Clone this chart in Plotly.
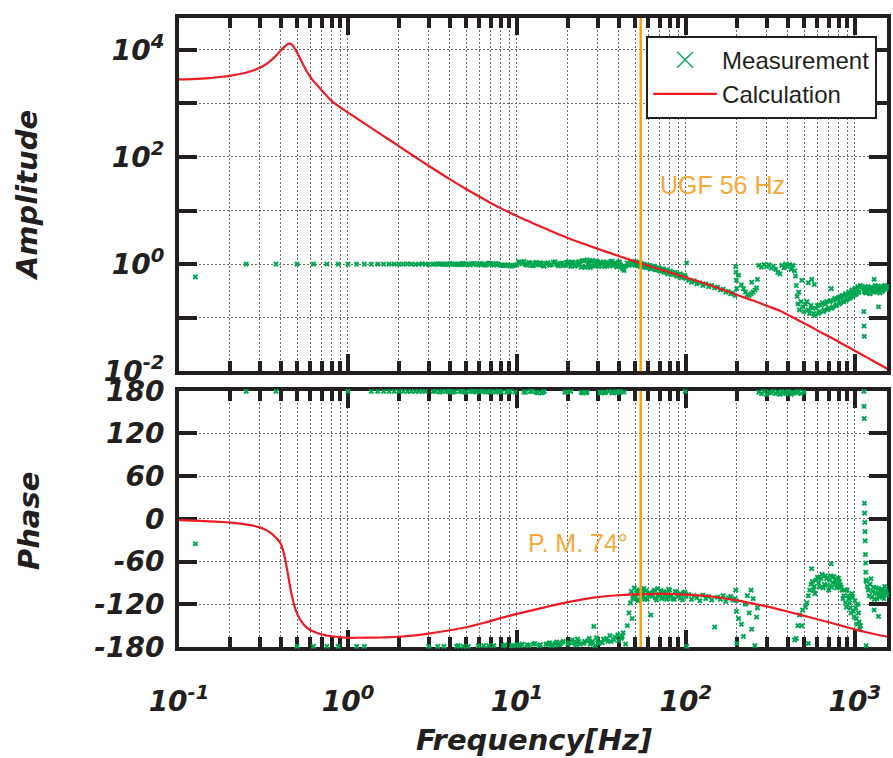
import plotly.graph_objects as go

# ---------------- data ----------------
# Calculation (model) curve
calc_freq = [0.1, 0.12, 0.15, 0.18, 0.2, 0.23, 0.26, 0.28, 0.3, 0.32, 0.34, 0.36, 0.38, 0.4,
             0.415, 0.43, 0.44, 0.446, 0.452, 0.46, 0.47, 0.48, 0.49, 0.5, 0.52, 0.55, 0.58,
             0.62, 0.67, 0.72, 0.78, 0.85, 0.92, 1.0,
             1.2, 1.4, 1.7, 2.0, 2.5, 3.0, 4.0, 5.0, 6.5, 8.0, 10, 13, 16, 20, 25, 30, 40, 56,
             75, 100, 130, 160, 200, 250, 300, 360, 420, 500, 600, 720, 850, 1000, 1200, 1400, 1600]
calc_amp = [2799, 2851, 2965, 3141, 3273, 3532, 3890, 4217, 4624, 5152, 5888, 6839, 8128, 9661,
            10965, 12162, 12794, 13032, 13092, 12882, 12162, 11092, 9886, 8810, 6998, 4898, 3631,
            2692, 2042, 1585, 1202, 955, 804, 675,
            461, 335, 224, 160, 100, 68.7, 38.6, 25.3, 15.8, 11.1, 7.9, 5.46, 4.12, 3.09, 2.37,
            1.94, 1.42, 1.0, 0.75, 0.566, 0.435, 0.346, 0.268, 0.209, 0.168, 0.135, 0.105, 0.079,
            0.058, 0.0427, 0.032, 0.0242, 0.0176, 0.0134, 0.0106]
calc_phase = [-1.8, -2.4, -3.4, -4.4, -5.2, -6.6, -8.4, -10, -12, -14.5, -18, -22.5, -28, -35,
              -46, -63, -76, -84, -92, -102, -112, -121, -128, -133, -141, -149, -154,
              -158, -161, -163, -164.6, -165.6, -166.4, -167,
              -167, -166.9, -166.4, -165.6, -163.6, -161.2, -156.5, -152.2, -145.5, -139.5, -133.5,
              -127.1, -122.0, -117.0, -112.8, -110.0, -107.3, -105.8, -105.4, -106.3, -108.3, -110.8,
              -114.5, -119, -123, -127.5, -131.5, -136.2, -141, -146, -150.7, -155.3, -160, -163.5, -166]

# Measurement points (frequency, amplitude, phase)
meas_freq = [
    0.125, 0.25, 0.375, 0.5, 0.625, 0.75, 0.875, 1.0, 1.125, 1.25, 1.375, 1.5, 1.625, 1.75,
    1.875, 2.0, 2.125, 2.25, 2.375, 2.5, 2.625, 2.75, 2.875, 3.0,
    3.2, 3.4, 3.6, 3.8, 4.0, 4.2, 4.4, 4.6, 4.8, 5.0, 5.3, 5.6, 5.9, 6.2, 6.5, 6.8, 7.1, 7.5,
    7.9, 8.3, 8.7, 9.1, 9.5, 10.0, 10.5, 11.0, 11.5, 12.0, 12.5, 13.0, 13.5, 14.0, 14.5, 15.2,
    16.0, 16.8, 17.6, 18.4, 19.2, 20.0, 20.8, 21.6, 22.4, 23.2, 24.0, 24.8, 25.6, 26.4, 27.2,
    28.0, 29.0, 30.0, 31.0, 32.0, 33.0, 34.0, 35.0, 36.0, 37.0, 38.0, 39.0, 40.0, 41.0, 42.0, 43.0,
    3.3, 3.5, 3.7, 3.9, 4.1, 4.3, 4.5, 4.7, 4.9, 5.15,
    5.45, 5.75, 6.05, 6.35, 6.65, 6.95, 7.3, 7.7, 8.1, 8.5,
    8.9, 9.3, 9.75, 10.25, 10.75, 11.25, 11.75, 12.25, 12.75, 13.25,
    13.75, 14.25, 14.85, 15.6, 16.4, 17.2, 18.0, 18.8, 19.6, 20.4,
    21.2, 22.0, 22.8, 23.6, 24.4, 25.2, 26.0, 26.8, 27.6, 28.5,
    29.5, 30.5, 31.5, 32.5, 33.5, 34.5, 35.5, 36.5, 37.5, 38.5,
    39.5, 40.5, 41.5, 42.5,
    44, 45, 46, 47, 48, 49, 50, 51, 52, 53, 54, 55, 56, 57, 58, 60, 62, 64, 66, 68,
    70, 72, 74, 76, 78, 80, 82, 85, 88, 91, 94, 97, 100,
    47.5, 48.5, 49.5, 50.5, 51.5, 52.5, 53.5, 54.5, 55.5, 56.5, 59, 61, 63, 65, 67, 69, 71, 73,
    75, 77, 79, 81, 83.5, 86.5, 89.5, 92.5, 95.5, 98.5,
    99, 101, 104, 108, 112, 116, 121, 126, 131, 136, 142, 148, 154, 160, 166, 172, 178, 184, 190, 195,
    197, 198, 199, 200, 205, 213, 219, 225, 231, 237, 243, 245, 250, 256, 262, 265,
    270, 280, 290, 300, 310, 320, 330, 340, 350, 360, 370, 380, 390, 400, 410, 420, 430, 440,
    445, 450, 455, 460, 465, 470, 480, 490, 500, 510,
    520, 540, 560, 580, 600, 620, 640, 660, 680, 700, 720, 740, 760, 780, 800, 820, 840, 860,
    880, 900, 920, 940, 960, 980, 1000, 1020, 1040, 1060, 1080,
    530, 550, 570, 590, 610, 630, 650, 670, 690, 710, 730, 750, 770, 790, 810, 830, 850, 870,
    890, 910, 930, 950, 970, 990, 1010, 1030, 1050, 1070,
    485, 530, 555, 575, 725, 1300, 1380,
    1130, 1133, 1136, 1139, 1142, 1145, 1148, 1151, 1154, 1157, 1160, 1163, 1166,
    1170, 1200, 1230, 1260, 1290, 1320, 1350, 1380, 1410, 1440, 1470, 1500, 1530, 1560, 1590,
    1185, 1215, 1245, 1275, 1305, 1335, 1365, 1395, 1425, 1455, 1485, 1515, 1545, 1575,
]
meas_amp = [
    0.58, 1.0, 1.0, 1.0, 1.0, 1.0, 1.0, 1.0, 1.0, 1.0, 1.0, 1.0, 1.0, 1.0,
    1.0, 1.0, 1.0, 1.01, 1.0, 0.99, 1.0, 1.01, 1.0, 0.99,
    1.0, 1.01, 0.99, 1.0, 1.02, 0.99, 1.0, 0.98, 1.02, 1.0, 0.97, 1.03, 0.98, 1.01, 0.96, 1.04, 0.99, 1.02,
    0.97, 0.94, 0.96, 0.93, 0.95, 0.97, 1.08, 1.12, 0.96, 1.05, 0.94, 1.08, 0.97, 1.03, 0.92, 1.06,
    0.98, 1.1, 0.93, 1.04, 0.97, 1.09, 0.91, 1.05, 0.96, 1.12, 0.88, 1.15, 0.9, 1.08, 0.86,
    1.18, 0.92, 1.1, 0.95, 1.05, 0.9, 1.08, 0.98, 1.12, 0.94, 1.06, 0.89, 1.1, 0.97, 0.85, 0.76,
    0.99, 1.01, 1.0, 0.98, 1.01, 1.0, 0.99, 1.02, 0.98, 1.01,
    1.02, 0.98, 1.03, 0.97, 1.0, 1.04, 0.96, 1.01, 0.95, 0.97,
    0.95, 0.92, 0.96, 1.1, 1.02, 0.98, 1.07, 0.95, 1.04, 0.99,
    1.06, 0.95, 1.02, 0.96, 1.08, 0.99, 1.03, 0.94, 1.07, 1.0,
    1.1, 0.93, 1.06, 0.98, 1.16, 0.87, 1.2, 0.92, 1.12, 0.95,
    1.14, 0.91, 1.03, 1.1, 0.95, 1.07, 0.92, 1.14, 0.98, 1.04,
    0.93, 1.08, 0.9, 0.82,
    0.92, 1.05, 0.95, 1.1, 0.98, 1.06, 0.96, 1.08, 0.94, 1.03, 0.9, 1.0, 0.88, 0.98, 0.86, 0.94, 0.82, 0.9, 0.78, 0.84,
    0.74, 0.8, 0.7, 0.76, 0.66, 0.72, 0.64, 0.68, 0.6, 0.64, 0.56, 0.6, 0.54,
    1.02, 1.12, 0.98, 1.1, 0.95, 1.06, 0.93, 1.02, 0.9, 0.99, 0.87, 0.95, 0.84, 0.91, 0.8, 0.86, 0.76, 0.82,
    0.72, 0.78, 0.69, 0.74, 0.65, 0.7, 0.61, 0.66, 0.58, 0.62,
    0.58, 1.05, 0.5, 0.46, 0.49, 0.43, 0.45, 0.4, 0.43, 0.38, 0.4, 0.36, 0.37, 0.33, 0.34, 0.3, 0.31, 0.28, 0.29, 0.26,
    0.9, 0.7, 0.5, 0.35, 0.62, 0.41, 0.35, 0.3, 0.27, 0.26, 0.28, 0.46, 0.3, 0.33, 0.36, 0.52,
    0.95, 0.88, 0.98, 0.9, 0.97, 0.84, 0.92, 0.8, 0.7, 0.66, 0.95, 0.85, 1.0, 0.9, 0.98, 0.8, 0.95, 0.75,
    0.6, 0.4, 0.25, 0.18, 0.3, 0.14, 0.2, 0.16, 0.13, 0.18,
    0.2, 0.12, 0.15, 0.11, 0.17, 0.13, 0.19, 0.14, 0.2, 0.15, 0.21, 0.16, 0.23, 0.17, 0.24, 0.19, 0.26, 0.2,
    0.28, 0.22, 0.3, 0.24, 0.33, 0.26, 0.35, 0.28, 0.38, 0.3, 0.4,
    0.14, 0.17, 0.12, 0.15, 0.12, 0.17, 0.13, 0.18, 0.14, 0.2, 0.15, 0.21, 0.17, 0.22, 0.18, 0.24, 0.2, 0.26,
    0.21, 0.27, 0.23, 0.3, 0.25, 0.32, 0.27, 0.34, 0.3, 0.37,
    0.5, 0.45, 0.52, 0.42, 0.35, 0.52, 0.16,
    0.13, 0.07, 0.045, 0.32, 0.36, 0.3, 0.34, 0.38, 0.31, 0.35, 0.29, 0.33, 0.36,
    0.3, 0.38, 0.28, 0.35, 0.3, 0.4, 0.32, 0.36, 0.29, 0.38, 0.33, 0.4, 0.34, 0.37, 0.35,
    0.34, 0.29, 0.37, 0.31, 0.36, 0.3, 0.39, 0.33, 0.37, 0.31, 0.39, 0.35, 0.38, 0.33,
]
meas_phase = [
    -35, 179, 179, -179, -179, -179, -179, 179, -179, -179, 179, 179, 179, 179,
    179, 179, 179, 179, 179, 179, 179, 179, 179, -179,
    179, -179, 179, 179, 179, 178, -179, 179, -179, 178, 179, 179, -178, 179, 178, -178, 179, 178,
    179, -178, 178, 179, -178, -177, -178, 178, -177, 179, -176, 178, -178, 177, 179, -176,
    -178, -175, -177, -174, 178, -176, 179, -173, -177, -172, 178, -175, 177, -171, -176,
    -172, -178, -170, 178, -174, 177, -168, 179, -172, 178, -166, 177, -171, 179, -165, 178,
    179, 178, -179, 179, 178, 179, -178, 179, 178, -179,
    179, 178, 179, -178, 179, 178, -178, 179, 178, -177,
    179, -178, 178, -177, -176, 178, -178, 179, -175, 177,
    -177, 178, -176, -174, -177, -173, -176, -172, 178, -174,
    -170, -175, -169, -176, 177, -172, 178, -168, -174, -151,
    -167, -175, 177, -169, 178, -172, -164, 177, -170, 179,
    -163, 178, -168, -160,
    -176, -150, -132, -118, -140, -108, -112, -100, -114, -104, -110, -99, -108, -113, -101, -107, -135, -103, -111, -98,
    -108, -112, -102, -106, -110, -100, -108, -113, -103, -107, -111, -104, -109,
    -102, -112, -97, -109, -104, -115, -100, -106, -111, -98, -113, -104, -109, -100, -114, -106, -101, -110,
    -104, -113, -99, -108, -112, -102, -109, -105, -114, -103,
    179, -179, -106, -113, -108, -111, -115, -107, -112, -109, -114, -152, -110, -113, -108, -116, -111, -109, -114, -112,
    -100, -115, -130, -175, -140, -148, -165, -120, -108, -132, -100, -155, -112, -178, -138, -125,
    178, 176, 179, 175, 178, 177, 179, 176, 178, 175, 179, 177, 176, 179, 178, 175, 177, -170,
    178, -168, 177, -150, 179, -135, 176, -128, 178, -124,
    -118, -100, -88, -105, -82, -96, -78, -92, -84, -100, -80, -90, -86, -97, -83, -93, -100, -108,
    -118, -100, -112, -125, -105, -130, -115, -140, -120, -145, -150,
    -108, -92, -100, -86, -90, -84, -97, -80, -93, -86, -96, -81, -90, -95, -88, -96, -112, -100,
    -124, -108, -118, -132, -110, -138, -125, -148, -132, -155,
    -150, -175, -70, -95, -63, -128, -137,
    179, 158, 141, 22, 8, -5, -18, -31, -50, -62, -75, -86, -178,
    -88, -100, -92, -110, -96, -104, -112, -98, -106, -100, -108, -95, -103, -110, -100,
    -95, -108, -84, -102, -113, -97, -105, -110, -99, -104, -112, -101, -107, -98,
]
assert len(meas_freq) == len(meas_amp) == len(meas_phase)
assert len(calc_freq) == len(calc_amp) == len(calc_phase)

ugf_freq = 54  # position of the UGF marker line

x_tick_vals = [0.1, 1, 10, 100, 1000]
x_tick_text = ["10<sup>-1</sup>", "10<sup>0</sup>", "10<sup>1</sup>", "10<sup>2</sup>", "10<sup>3</sup>"]
x_minor_vals = [m * 10.0 ** e for e in range(-1, 4) for m in range(2, 10)]
amp_tick_vals = [0.01, 0.1, 1, 10, 100, 1000, 10000]
amp_tick_text = ["10<sup>-2</sup>", "", "10<sup>0</sup>", "", "10<sup>2</sup>", "", "10<sup>4</sup>"]
phase_tick_vals = [-180, -120, -60, 0, 60, 120, 180]
phase_tick_text = ["-180", "-120", "-60", "0", "60", "120", "180"]

# ---------------- styling ----------------
INK = "#231F20"
GRID = "#6a6a6a"
GREEN = "#00A651"
RED = "#ED1C24"
ORANGE = "#F4A11D"
ORANGE_TXT = "#F6A93B"
DASH = "2px,2px"
tick_font = dict(family="DejaVu Sans", size=28, color=INK, weight="bold", style="italic")
title_font = dict(family="DejaVu Sans", size=29, color=INK, weight="bold", style="italic")

fig = go.Figure()

# legend-only entries
fig.add_trace(go.Scatter(x=[None], y=[None], mode="markers", name="Measurement",
                         marker=dict(symbol="x-thin", size=16, line=dict(color=GREEN, width=1.3)),
                         xaxis="x", yaxis="y"))
fig.add_trace(go.Scatter(x=[None], y=[None], mode="lines", name="Calculation",
                         line=dict(color=RED, width=2.2), xaxis="x", yaxis="y"))

# measurement
fig.add_trace(go.Scatter(x=meas_freq, y=meas_amp, mode="markers", showlegend=False,
                         marker=dict(symbol="x", size=5, color=GREEN, line=dict(width=0)),
                         cliponaxis=False, xaxis="x", yaxis="y"))
fig.add_trace(go.Scatter(x=meas_freq, y=meas_phase, mode="markers", showlegend=False,
                         marker=dict(symbol="x", size=5, color=GREEN, line=dict(width=0)),
                         cliponaxis=False, xaxis="x2", yaxis="y2"))
# calculation
fig.add_trace(go.Scatter(x=calc_freq, y=calc_amp, mode="lines", showlegend=False,
                         line=dict(color=RED, width=2.2, shape="spline", smoothing=0.8),
                         xaxis="x", yaxis="y"))
fig.add_trace(go.Scatter(x=calc_freq, y=calc_phase, mode="lines", showlegend=False,
                         line=dict(color=RED, width=2.2, shape="spline", smoothing=0.8),
                         xaxis="x2", yaxis="y2"))

# UGF vertical line in both panels
for xr, yr in (("x", "y domain"), ("x2", "y2 domain")):
    fig.add_shape(type="line", xref=xr, yref=yr, x0=ugf_freq, x1=ugf_freq, y0=0, y1=1,
                  line=dict(color=ORANGE, width=2.5))

x_common = dict(type="log", range=[-1, 3.19], showline=True, linewidth=4, linecolor=INK,
                mirror="ticks", ticks="inside", ticklen=17, tickwidth=4, tickcolor=INK,
                tickmode="array", tickvals=x_tick_vals, ticktext=x_tick_text,
                showgrid=True, gridcolor=GRID, gridwidth=1, griddash=DASH, zeroline=False,
                tickfont=tick_font, layer="below traces",
                minor=dict(tickmode="array", tickvals=x_minor_vals, ticks="inside", ticklen=10,
                           tickwidth=4, tickcolor=INK, showgrid=True, gridcolor=GRID,
                           gridwidth=1, griddash=DASH))
y_common = dict(showline=True, linewidth=4, linecolor=INK, mirror="ticks", ticks="inside",
                ticklen=18, tickwidth=4, tickcolor=INK, tickmode="array",
                showgrid=True, gridcolor=GRID, gridwidth=1, griddash=DASH, zeroline=False,
                tickfont=tick_font, ticklabelstandoff=5, layer="below traces")

fig.update_layout(
    width=893, height=758,
    margin=dict(l=179, r=2, t=15, b=111),
    paper_bgcolor="white", plot_bgcolor="white",
    xaxis=dict(x_common, anchor="y", domain=[0, 1], showticklabels=False),
    xaxis2=dict(x_common, anchor="y2", domain=[0, 1], matches="x", ticklabelstandoff=26),
    yaxis=dict(y_common, type="log", range=[-2, 4.594], domain=[0.4383, 1],
               tickvals=amp_tick_vals, ticktext=amp_tick_text, anchor="x"),
    yaxis2=dict(y_common, range=[-180, 180], domain=[0, 0.4074],
                tickvals=phase_tick_vals, ticktext=phase_tick_text, anchor="x2"),
    legend=dict(x=0.986, y=0.972, xanchor="right", yanchor="top", bgcolor="white",
                bordercolor=INK, borderwidth=2, itemwidth=64, tracegroupgap=0,
                font=dict(family="Liberation Sans", size=24, color=INK)),
    annotations=[
        dict(text="Amplitude", xref="paper", yref="paper", x=-0.2143, y=0.7188, textangle=-90,
             showarrow=False, font=title_font, xanchor="center", yanchor="middle"),
        dict(text="Phase", xref="paper", yref="paper", x=-0.2115, y=0.2006, textangle=-90,
             showarrow=False, font=title_font, xanchor="center", yanchor="middle"),
        dict(text="Frequency[Hz]", xref="paper", yref="paper", x=0.502, y=-0.1485,
             showarrow=False, font=title_font, xanchor="center", yanchor="middle"),
        dict(text="UGF 56 Hz", xref="paper", yref="paper", x=0.768, y=0.7346,
             showarrow=False, font=dict(family="Liberation Sans", size=25, color=ORANGE_TXT),
             xanchor="center", yanchor="middle"),
        dict(text="P. M. 74°", xref="paper", yref="paper", x=0.5633, y=0.1659,
             showarrow=False, font=dict(family="Liberation Sans", size=25, color=ORANGE_TXT),
             xanchor="center", yanchor="middle"),
    ],
)

fig.write_html("out.html")
